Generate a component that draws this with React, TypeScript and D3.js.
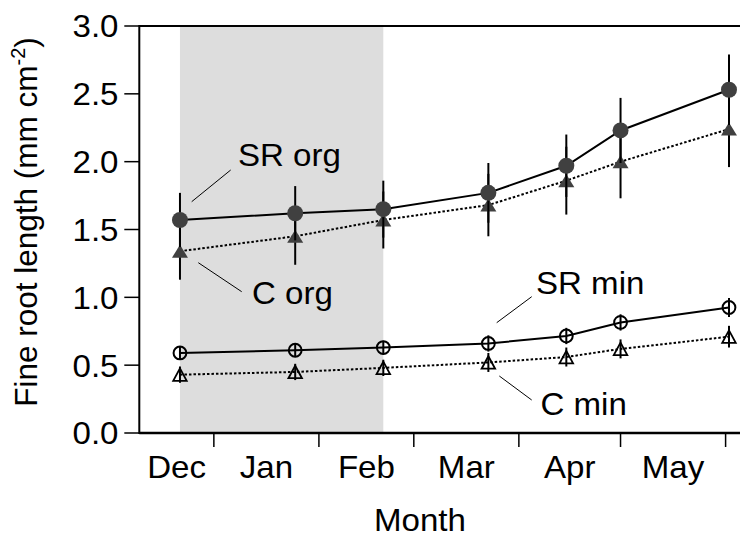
import React from "react";
import * as d3 from "d3";

// Sampling dates (Dec 2000 – Jun 2001)
const sampleDates = ["2000-12-22", "2001-01-25", "2001-02-20", "2001-03-23", "2001-04-15", "2001-05-01", "2001-06-02"];

// Fine root length (mm cm^-2), means and standard errors
const srOrg = [1.57, 1.62, 1.65, 1.77, 1.97, 2.23, 2.53];
const srOrgErr = [0.2, 0.2, 0.21, 0.22, 0.23, 0.24, 0.26];
const cOrg = [1.34, 1.45, 1.57, 1.68, 1.86, 2.0, 2.24];
const cOrgErr = [0.21, 0.21, 0.21, 0.23, 0.25, 0.27, 0.28];
const srMin = [0.59, 0.61, 0.63, 0.66, 0.715, 0.815, 0.925];
const srMinErr = [0.05, 0.05, 0.05, 0.06, 0.06, 0.06, 0.07];
const cMin = [0.43, 0.45, 0.48, 0.52, 0.56, 0.62, 0.71];
const cMinErr = [0.06, 0.06, 0.06, 0.07, 0.07, 0.07, 0.08];

const monthLabels = ["Dec", "Jan", "Feb", "Mar", "Apr", "May"];
const monthStarts = ["2000-12-01", "2001-01-01", "2001-02-01", "2001-03-01", "2001-04-01", "2001-05-01", "2001-06-01"];
const yTicks = [0, 0.5, 1.0, 1.5, 2.0, 2.5, 3.0];

// Shaded winter period
const shadeStart = "2000-12-22";
const shadeEnd = "2001-02-20";

const W = 740;
const H = 539;
const FONT = "'Liberation Sans', Arial, Helvetica, sans-serif";
const FS = 31.5;
const SX = 1.05;

const parse = d3.utcParse("%Y-%m-%d");

type TProps = {
  x: number;
  y: number;
  anchor?: "start" | "middle" | "end";
  dy?: string;
  children: React.ReactNode;
};

// Horizontal label, slightly widened glyphs
function T({ x, y, anchor = "start", dy, children }: TProps) {
  return (
    <text transform={`translate(${x},${y}) scale(${SX},1)`} textAnchor={anchor} dy={dy} fontSize={FS}>
      {children}
    </text>
  );
}

export default function App() {
  const x = d3
    .scaleUtc()
    .domain([parse("2000-12-10")!, parse("2001-06-08")!])
    .range([139.3, 139.3 + 180 * 3.389]);
  const y = d3.scaleLinear().domain([0, 3]).range([433, 26]);

  const dates = sampleDates.map((d) => parse(d)!);
  const [x0, x1] = x.range();
  const [yb, yt] = y.range();

  const line = d3
    .line<number>()
    .x((_, i) => x(dates[i]))
    .y((v) => y(v));

  const bounds = monthStarts.map((d) => parse(d)!);
  const labelX = monthLabels.map((_, i) => {
    const a = Math.max(x(bounds[i]), x0);
    const b = x(bounds[i + 1]);
    return (a + b) / 2;
  });

  const errBars = (vals: number[], errs: number[], key: string) =>
    vals.map((v, i) => (
      <line
        key={key + i}
        x1={x(dates[i])}
        x2={x(dates[i])}
        y1={y(v - errs[i])}
        y2={y(v + errs[i])}
        stroke="#000"
        strokeWidth={2}
      />
    ));

  const tri = (cx: number, cy: number, w: number, h: number) =>
    `M${cx - w / 2},${cy + h / 2}L${cx + w / 2},${cy + h / 2}L${cx},${cy - h / 2}Z`;

  return (
    <svg
      width={W}
      height={H}
      style={{ position: "absolute", left: 0, top: 0, background: "#fff" }}
      fontFamily={FONT}
    >
      {/* shaded period */}
      <rect
        x={x(parse(shadeStart)!)}
        y={yt}
        width={x(parse(shadeEnd)!) - x(parse(shadeStart)!)}
        height={yb - yt}
        fill="#dddddd"
      />

      {/* frame */}
      <line x1={x0} x2={x1} y1={yt} y2={yt} stroke="#000" strokeWidth={2.2} />
      <line x1={x0} x2={x1} y1={yb} y2={yb} stroke="#000" strokeWidth={2.5} />
      <line x1={x0} x2={x0} y1={yt - 1} y2={yb + 1} stroke="#000" strokeWidth={2} />

      {/* y axis ticks */}
      {yTicks.map((t) => (
        <g key={"yt" + t}>
          <line x1={x0 - 15} x2={x0} y1={y(t)} y2={y(t)} stroke="#000" strokeWidth={1.5} />
          <T x={118.5} y={y(t)} dy="0.36em" anchor="end">
            {d3.format(".1f")(t)}
          </T>
        </g>
      ))}

      {/* x axis ticks at month boundaries */}
      {bounds
        .filter((b) => x(b) > x0 && x(b) < W)
        .map((b, i) => (
          <line key={"xt" + i} x1={x(b)} x2={x(b)} y1={yb} y2={yb + 14} stroke="#000" strokeWidth={1.5} />
        ))}
      {monthLabels.map((m, i) => (
        <T key={m} x={labelX[i]} y={477.5} anchor="middle">
          {m}
        </T>
      ))}

      {/* axis titles */}
      <T x={420} y={530.5} anchor="middle">
        Month
      </T>
      <text transform="translate(37,222) rotate(-90)" textAnchor="middle" fontSize={FS}>
        Fine root length (mm cm
        <tspan dy={-12} fontSize={20}>
          -2
        </tspan>
        <tspan dy={12}>)</tspan>
      </text>

      {/* C min: dotted line, open triangles */}
      <path d={line(cMin) ?? ""} fill="none" stroke="#000" strokeWidth={2} strokeDasharray="2.5,2" />
      {errBars(cMin, cMinErr, "cmin")}
      {cMin.map((v, i) => (
        <path key={"cmt" + i} d={tri(x(dates[i]), y(v), 13.5, 12.5)} fill="none" stroke="#000" strokeWidth={1.8} />
      ))}

      {/* SR min: solid line, open circles */}
      <path d={line(srMin) ?? ""} fill="none" stroke="#000" strokeWidth={2} />
      {errBars(srMin, srMinErr, "srmin")}
      {srMin.map((v, i) => (
        <circle key={"smc" + i} cx={x(dates[i])} cy={y(v)} r={6.4} fill="none" stroke="#000" strokeWidth={2} />
      ))}

      {/* C org: dotted line, filled triangles */}
      <path d={line(cOrg) ?? ""} fill="none" stroke="#000" strokeWidth={2} strokeDasharray="2.5,2" />
      {errBars(cOrg, cOrgErr, "corg")}
      {cOrg.map((v, i) => (
        <path key={"cot" + i} d={tri(x(dates[i]), y(v), 16, 13)} fill="#404040" />
      ))}

      {/* SR org: solid line, filled circles */}
      <path d={line(srOrg) ?? ""} fill="none" stroke="#000" strokeWidth={2} />
      {errBars(srOrg, srOrgErr, "srorg")}
      {srOrg.map((v, i) => (
        <circle key={"soc" + i} cx={x(dates[i])} cy={y(v)} r={8} fill="#404040" />
      ))}

      {/* series labels with leader lines */}
      <line x1={191.7} y1={201.7} x2={230.7} y2={170} stroke="#000" strokeWidth={1} />
      <T x={238} y={166}>SR org</T>
      <line x1={198.3} y1={262.7} x2={241.7} y2={291.7} stroke="#000" strokeWidth={1} />
      <T x={252} y={304}>C org</T>
      <line x1={496.7} y1={322.7} x2={531.7} y2={296.7} stroke="#000" strokeWidth={1} />
      <T x={536} y={294}>SR min</T>
      <line x1={499.3} y1={376} x2={531.7} y2={400} stroke="#000" strokeWidth={1} />
      <T x={540.5} y={415}>C min</T>
    </svg>
  );
}
